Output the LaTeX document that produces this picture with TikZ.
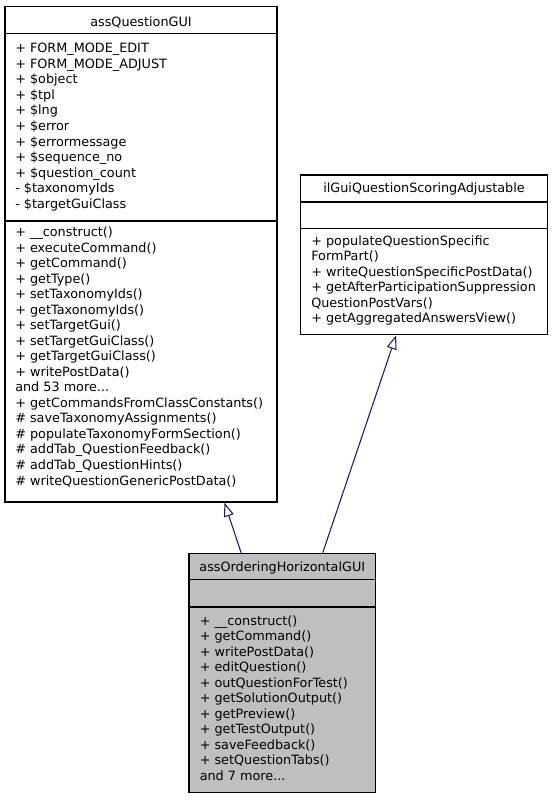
\documentclass[tikz,border=0pt]{standalone}
\usepackage{fontspec}
\setmainfont{DejaVu Sans}
\usetikzlibrary{arrows.meta,fit,calc}
\definecolor{edgeblue}{HTML}{191970}
\definecolor{boxgray}{HTML}{BFBFBF}
\newcommand{\mydotsx}{...}
\begin{document}
\begin{tikzpicture}[x=0.75pt,y=-0.75pt,
  font=\fontsize{9.6}{11.6}\selectfont,
  cls/.style={draw=black, line width=0.85pt, inner sep=0pt},
  sepline/.style={draw=black, line width=1.2pt},
  mem/.style={anchor=base west, inner sep=0pt},
  ttl/.style={anchor=base, inner sep=0pt},
  inh/.style={draw=edgeblue, line width=0.8pt, -{Triangle[open, length=10.5pt, width=7.5pt]}}]
\useasboundingbox (0,0) rectangle (552,800);

% ---- assQuestionGUI ----
\node[cls, fit={(5,6.5) (277,502)}] (qgui) {};
\draw[sepline] (qgui.west |- 0,33.3) -- (qgui.east |- 0,33.3);
\draw[sepline] (qgui.west |- 0,221) -- (qgui.east |- 0,221);
\node[ttl] (qguit) at (141,26) {assQuestionGUI};
\foreach \t [count=\i] in {+ FORM\_MODE\_EDIT, + FORM\_MODE\_ADJUST, + \$object, + \$tpl, + \$lng, + \$error, + \$errormessage, + \$sequence\_no, + \$question\_count, - \$taxonomyIds, - \$targetGuiClass}
  \node[mem] (qa\i) at (15,{52.7+(\i-1)*15.55}) {\t};
\foreach \t [count=\i] in {+ \_\_construct(), + executeCommand(), + getCommand(), + getType(), + setTaxonomyIds(), + getTaxonomyIds(), + setTargetGui(), + setTargetGuiClass(), + getTargetGuiClass(), + writePostData(), and 53 more\mydotsx, + getCommandsFromClassConstants(), \# saveTaxonomyAssignments(), \# populateTaxonomyFormSection(), \# addTab\_QuestionFeedback(), \# addTab\_QuestionHints(), \# writeQuestionGenericPostData()}
  \node[mem] (qo\i) at (15,{236.7+(\i-1)*15.52}) {\t};

% ---- ilGuiQuestionScoringAdjustable ----
\node[cls, fit={(300.7,175) (547.3,334.7)}] (scor) {};
\draw[sepline] (scor.west |- 0,201.7) -- (scor.east |- 0,201.7);
\draw[sepline] (scor.west |- 0,228.3) -- (scor.east |- 0,228.3);
\node[ttl] (scort) at (424,192.5) {ilGuiQuestionScoringAdjustable};
\foreach \t [count=\i] in {+ populateQuestionSpecific, FormPart(), + writeQuestionSpecificPostData(), + getAfterParticipationSuppression, QuestionPostVars(), + getAggregatedAnswersView()}
  \node[mem] (so\i) at (311,{245+(\i-1)*15.55}) {\t};

% ---- assOrderingHorizontalGUI ----
\node[cls, fill=boxgray, fit={(189,553.3) (375.7,792.7)}] (ord) {};
\draw[sepline] (ord.west |- 0,579.3) -- (ord.east |- 0,579.3);
\draw[sepline] (ord.west |- 0,606.7) -- (ord.east |- 0,606.7);
\node[ttl] (ordt) at (282.3,571) {assOrderingHorizontalGUI};
\foreach \t [count=\i] in {+ \_\_construct(), + getCommand(), + writePostData(), + editQuestion(), + outQuestionForTest(), + getSolutionOutput(), + getPreview(), + getTestOutput(), + saveFeedback(), + setQuestionTabs(), and 7 more\mydotsx}
  \node[mem] (oo\i) at (199.5,{625+(\i-1)*15.5}) {\t};

% ---- inheritance ----
\draw[inh] ($(ord.north west)+(52.7,0)$) -- ($(qgui.south west)+(220,0)$);
\draw[inh] ($(ord.north west)+(134.3,0)$) -- ($(scor.south west)+(96,0)$);
\end{tikzpicture}
\end{document}
